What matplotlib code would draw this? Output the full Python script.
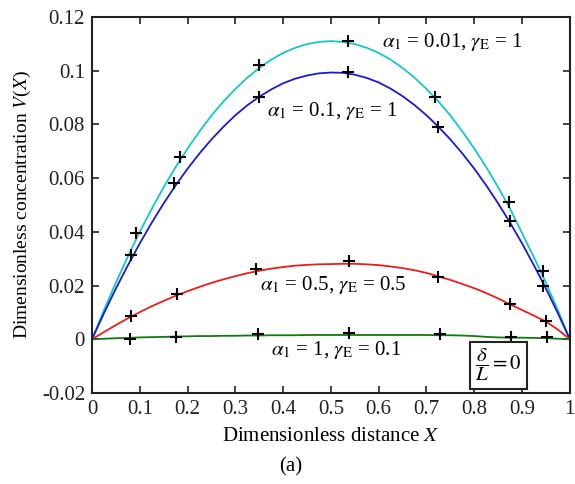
import matplotlib
matplotlib.use('Agg')
import matplotlib.pyplot as plt
import numpy as np

plt.rcParams['font.family'] = ['Liberation Serif', 'DejaVu Serif']
plt.rcParams['mathtext.fontset'] = 'stix'

# curve samples, X step 0.025
x_curve = [i / 40 for i in range(41)]
v_cyan = [0, 0.0108, 0.0211, 0.0308, 0.0400, 0.0486, 0.0566, 0.0641, 0.0710, 0.0774,
          0.0833, 0.0885, 0.0932, 0.0974, 0.1010, 0.1041, 0.1066, 0.1085, 0.1099, 0.1107,
          0.1110, 0.1107, 0.1099, 0.1085, 0.1066, 0.1041, 0.1010, 0.0974, 0.0932, 0.0885,
          0.0833, 0.0774, 0.0710, 0.0641, 0.0566, 0.0486, 0.0395, 0.0305, 0.0210, 0.0108, 0]
v_blue = [0, 0.0097, 0.0189, 0.0275, 0.0357, 0.0434, 0.0506, 0.0573, 0.0635, 0.0692,
          0.0744, 0.0791, 0.0834, 0.0871, 0.0903, 0.0930, 0.0953, 0.0970, 0.0982, 0.0990,
          0.0993, 0.0992, 0.0985, 0.0973, 0.0956, 0.0933, 0.0905, 0.0872, 0.0834, 0.0791,
          0.0744, 0.0692, 0.0635, 0.0573, 0.0506, 0.0434, 0.0357, 0.0275, 0.0189, 0.0097, 0]
v_red = [0, 0.0027, 0.0053, 0.0078, 0.0101, 0.0123, 0.0143, 0.0162, 0.0179, 0.0195,
         0.0210, 0.0223, 0.0235, 0.0246, 0.0255, 0.0263, 0.0269, 0.0274, 0.0277, 0.0279,
         0.0280, 0.0281, 0.0281, 0.0279, 0.0276, 0.0271, 0.0265, 0.0257, 0.0247, 0.0234,
         0.0221, 0.0206, 0.0190, 0.0172, 0.0152, 0.0130, 0.0109, 0.0088, 0.0066, 0.0036, 0]
v_green = [0, 0.0002, 0.0004, 0.0005, 0.0007, 0.0008, 0.0009, 0.0010, 0.0011, 0.0012,
           0.0012, 0.0013, 0.0013, 0.0014, 0.0014, 0.0015, 0.0015, 0.0015, 0.0016, 0.0016,
           0.0016, 0.0016, 0.0016, 0.0016, 0.0016, 0.0016, 0.0016, 0.0016, 0.0016, 0.0015,
           0.0015, 0.0014, 0.0012, 0.0009, 0.0007, 0.0006, 0.0006, 0.0005, 0.0004, 0.0002, 0]

# '+' marker points
x_pts_cyan = [0.092, 0.184, 0.350, 0.536, 0.718, 0.872, 0.944]
y_pts_cyan = [0.0395, 0.068, 0.102, 0.111, 0.0903, 0.0511, 0.0255]
x_pts_blue = [0.081, 0.172, 0.349, 0.536, 0.725, 0.874, 0.944]
y_pts_blue = [0.0314, 0.058, 0.0903, 0.0995, 0.0791, 0.0439, 0.0198]
x_pts_red = [0.081, 0.177, 0.344, 0.538, 0.724, 0.874, 0.951]
y_pts_red = [0.0087, 0.0169, 0.026, 0.0293, 0.0233, 0.0131, 0.0067]
x_pts_green = [0.079, 0.176, 0.347, 0.538, 0.728, 0.876, 0.952]
y_pts_green = [0.0, 0.001, 0.0019, 0.0023, 0.0019, 0.001, 0.0007]

xticks = [0, 0.1, 0.2, 0.3, 0.4, 0.5, 0.6, 0.7, 0.8, 0.9, 1]
xtick_labels = ['0', '0.1', '0.2', '0.3', '0.4', '0.5', '0.6', '0.7', '0.8', '0.9', '1']
yticks = [-0.02, 0, 0.02, 0.04, 0.06, 0.08, 0.1, 0.12]
ytick_labels = ['-0.02', '0', '0.02', '0.04', '0.06', '0.08', '0.1', '0.12']

fig = plt.figure(figsize=(5.75, 4.84), dpi=100)
ax = fig.add_axes([0.160, 0.188, 0.831, 0.777])

ax.plot(x_curve, v_cyan, color='#10c8cc', lw=1.3)
ax.plot(x_curve, v_blue, color='#1a1ad0', lw=1.3)
ax.plot(x_curve, v_red, color='#ee1c1c', lw=1.3)
ax.plot(x_curve, v_green, color='#107a10', lw=1.3)

for xs, ys in [(x_pts_cyan, y_pts_cyan), (x_pts_blue, y_pts_blue),
               (x_pts_red, y_pts_red), (x_pts_green, y_pts_green)]:
    ax.plot(xs, ys, ls='none', marker='+', color='black', ms=8, mew=1.5)

ax.set_xlim(0, 1)
ax.set_ylim(-0.02, 0.12)
ax.set_xticks(xticks)
ax.set_xticklabels(xtick_labels)
ax.set_yticks(yticks)
ax.set_yticklabels(ytick_labels)
ax.tick_params(direction='in', top=True, right=True, length=5, width=1.2,
               labelsize=15, colors='#222222', pad=5)
for sp in ax.spines.values():
    sp.set_linewidth(1.5)
    sp.set_color('#222222')

ax.set_xlabel(r'Dimensionless distance $X$', fontsize=15, labelpad=6)
ax.set_ylabel(r'Dimensionless concentration $V$($X$)', fontsize=14, labelpad=6)

fs = 15
ax.text(0.607, 0.1107, r'$\alpha_1$ = 0.01, $\gamma_{\rm E}$ = 1', fontsize=fs, va='center')
ax.text(0.366, 0.0850, r'$\alpha_1$ = 0.1, $\gamma_{\rm E}$ = 1', fontsize=fs, va='center')
ax.text(0.351, 0.0202, r'$\alpha_1$ = 0.5, $\gamma_{\rm E}$ = 0.5', fontsize=fs, va='center')
ax.text(0.374, -0.0040, r'$\alpha_1$ = 1, $\gamma_{\rm E}$ = 0.1', fontsize=fs, va='center')
ax.text(0.851, -0.0096, r'$\dfrac{\delta}{L} = 0$', fontsize=15, ha='center', va='center',
        bbox=dict(boxstyle='square,pad=0.25', fc='white', ec='#222222', lw=1.5))

fig.text(0.505, 0.015, '(a)', fontsize=15, ha='center', va='bottom')

fig.savefig('out.png', dpi=100)
